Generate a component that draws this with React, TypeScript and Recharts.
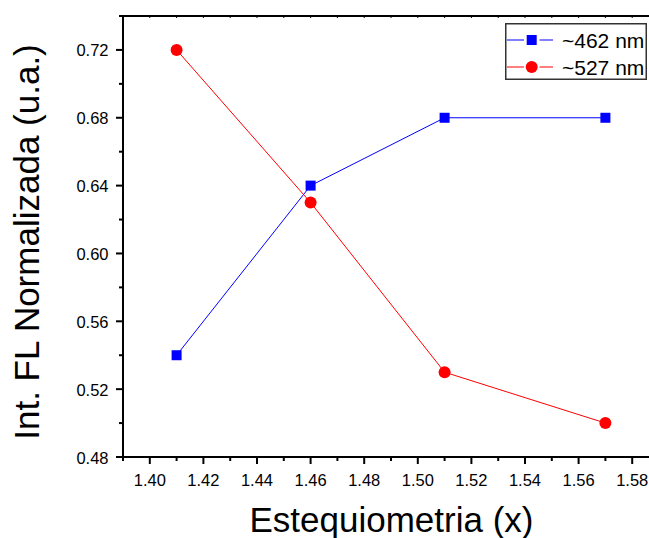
import React from "react";
import { LineChart, Line, XAxis, YAxis, Legend } from "recharts";

const stoichiometry = [1.41, 1.46, 1.51, 1.57];
const fl462 = [0.54, 0.64, 0.68, 0.68];
const fl527 = [0.72, 0.63, 0.53, 0.5];

const xTicks = [
    1.39, 1.4, 1.41, 1.42, 1.43, 1.44, 1.45, 1.46, 1.47, 1.48, 1.49, 1.5, 1.51, 1.52,
    1.53, 1.54, 1.55, 1.56, 1.57, 1.58, 1.59,
];
const yTicks = [0.48, 0.5, 0.52, 0.54, 0.56, 0.58, 0.6, 0.62, 0.64, 0.66, 0.68, 0.7, 0.72, 0.74];

const seriesNames = ["~462 nm", "~527 nm"];

const data = stoichiometry.map((x, i) => ({ x, blue: fl462[i], red: fl527[i] }));

const FONT = '"Liberation Sans", Arial, Helvetica, sans-serif';
const W = 680;
const H = 538;
const PLOT_LEFT = 123;
const PLOT_TOP = 16;
const PLOT_RIGHT = 659;
const PLOT_BOTTOM = 457;

function XTick({ x, payload }: any) {
    const v = payload.value as number;
    const major = Math.round(v * 100) % 2 === 0;
    return (
        <g>
            <line x1={x} x2={x} y1={PLOT_BOTTOM} y2={PLOT_BOTTOM + (major ? 7 : 4)} stroke="#000" strokeWidth={2} />
            {major && (
                <text x={x} y={486} textAnchor="middle" fontSize={16.5} fontFamily={FONT} fill="#000">
                    {v.toFixed(2)}
                </text>
            )}
        </g>
    );
}

function YTick({ y, payload }: any) {
    const v = payload.value as number;
    const major = Math.round(v * 100) % 4 === 0;
    return (
        <g>
            <line x1={PLOT_LEFT - (major ? 7 : 4)} x2={PLOT_LEFT} y1={y} y2={y} stroke="#000" strokeWidth={2} />
            {major && (
                <text x={108.5} y={y + 6.5} textAnchor="end" fontSize={16.5} fontFamily={FONT} fill="#000">
                    {v.toFixed(2)}
                </text>
            )}
        </g>
    );
}

// tiny inward ticks along the top frame line
function TopTick({ x }: any) {
    return <line x1={x} x2={x} y1={PLOT_TOP} y2={PLOT_TOP + 2} stroke="#000" strokeWidth={1} />;
}

function SquareDot({ cx, cy }: any) {
    return <rect x={cx - 5} y={cy - 5} width={10} height={10} fill="#0000FF" />;
}

function LegendBox() {
    return (
        <svg width={142} height={57} style={{ display: "block" }}>
            <rect x={0.75} y={0.75} width={140.5} height={55.5} fill="#fff" stroke="#333" strokeWidth={1.5} />
            <line x1={2} x2={19} y1={17} y2={17} stroke="#0000FF" strokeWidth={1} />
            <line x1={34.5} x2={48} y1={17} y2={17} stroke="#0000FF" strokeWidth={1} />
            <rect x={21.7} y={12} width={10} height={10} fill="#0000FF" />
            <text x={57} y={24.5} fontSize={21} fontFamily={FONT} fill="#000">
                {seriesNames[0]}
            </text>
            <line x1={2} x2={19} y1={44} y2={44} stroke="#FF0000" strokeWidth={1} />
            <line x1={34.5} x2={48} y1={44} y2={44} stroke="#FF0000" strokeWidth={1} />
            <circle cx={26.7} cy={44} r={6} fill="#FF0000" />
            <text x={57} y={51.5} fontSize={21} fontFamily={FONT} fill="#000">
                {seriesNames[1]}
            </text>
        </svg>
    );
}

export default function App() {
    return (
        <div style={{ position: "absolute", left: 0, top: 0, width: 649, height: 538, overflow: "hidden", background: "#fff" }}>
            <LineChart
                width={W}
                height={H}
                data={data}
                margin={{ top: PLOT_TOP - 1, right: W - PLOT_RIGHT, bottom: H - PLOT_BOTTOM - 1, left: PLOT_LEFT - 1 }}
            >
                <XAxis
                    dataKey="x"
                    type="number"
                    domain={[1.39, 1.59]}
                    ticks={xTicks}
                    interval={0}
                    height={1}
                    tick={<XTick />}
                    tickLine={false}
                    axisLine={{ stroke: "#000", strokeWidth: 2 }}
                    allowDataOverflow
                />
                <XAxis
                    xAxisId="top"
                    orientation="top"
                    dataKey="x"
                    type="number"
                    domain={[1.39, 1.59]}
                    ticks={xTicks}
                    interval={0}
                    height={1}
                    tick={<TopTick />}
                    tickLine={false}
                    axisLine={{ stroke: "#000", strokeWidth: 2 }}
                />
                <YAxis
                    type="number"
                    domain={[0.48, 0.74]}
                    ticks={yTicks}
                    interval={0}
                    width={1}
                    tick={<YTick />}
                    tickLine={false}
                    axisLine={{ stroke: "#000", strokeWidth: 2 }}
                    allowDataOverflow
                />
                <Line
                    dataKey="blue"
                    type="linear"
                    stroke="#0000FF"
                    strokeWidth={1}
                    dot={<SquareDot />}
                    activeDot={false}
                    isAnimationActive={false}
                />
                <Line
                    dataKey="red"
                    type="linear"
                    stroke="#FF0000"
                    strokeWidth={1}
                    dot={{ r: 6, fill: "#FF0000", stroke: "none" }}
                    activeDot={false}
                    isAnimationActive={false}
                />
                <Legend
                    layout="horizontal"
                    verticalAlign="middle"
                    align="center"
                    content={() => <LegendBox />}
                    wrapperStyle={{ position: "absolute", left: 505, top: 23, width: 142, height: 57 }}
                />
                <text
                    x={39}
                    y={242}
                    transform="rotate(-90, 39, 242)"
                    textAnchor="middle"
                    fontSize={35}
                    fontFamily={FONT}
                    fill="#000"
                >
                    Int. FL Normalizada (u.a.)
                </text>
                <text x={391.5} y={532} textAnchor="middle" fontSize={35} fontFamily={FONT} fill="#000">
                    Estequiometria (x)
                </text>
            </LineChart>
        </div>
    );
}
